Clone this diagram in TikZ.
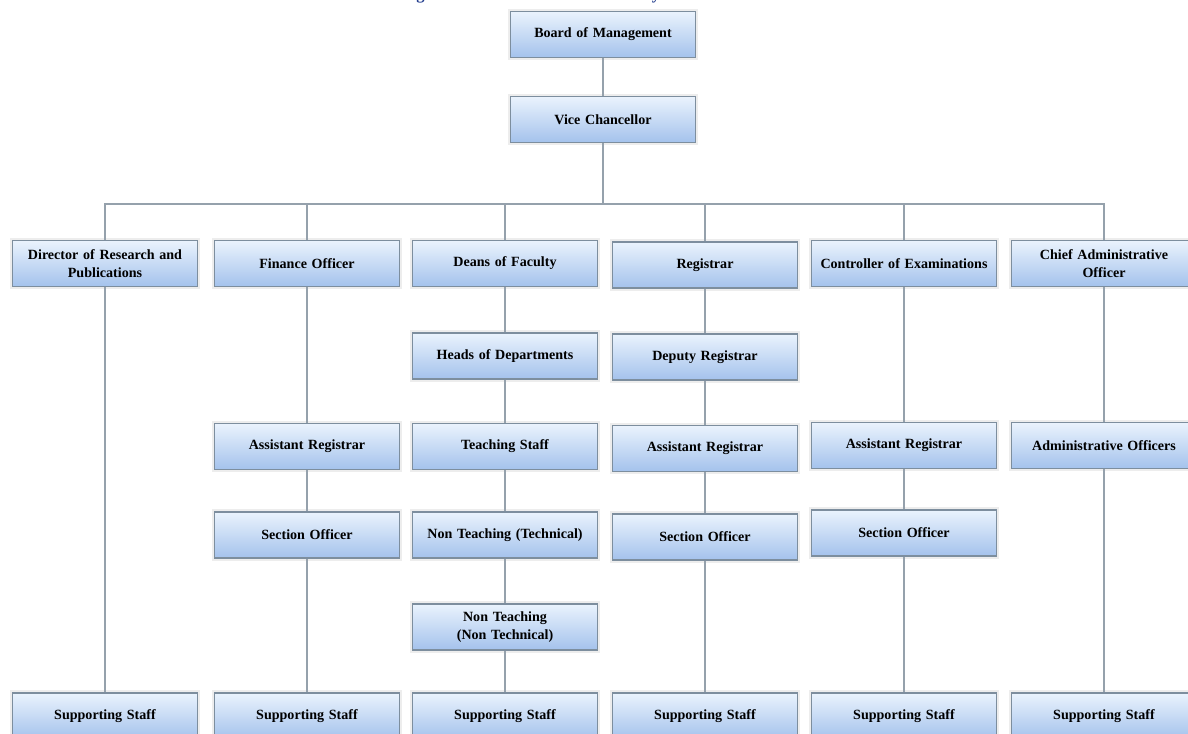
\documentclass[tikz,border=0pt]{standalone}
\usepackage{fontspec}
\setmainfont{Liberation Serif}
\definecolor{boxtop}{HTML}{EAF3FD}
\definecolor{boxbot}{HTML}{A4C2EC}
\definecolor{boxedge}{HTML}{7D8E9E}
\definecolor{linkgray}{HTML}{95A1AC}
\definecolor{titleblue}{HTML}{1F3A8C}
\begin{document}
\begin{tikzpicture}[x=0.025cm, y=-0.025cm,
  every node/.style={font=\bfseries\fontsize{10}{12.8}\selectfont},
  post/.style={rectangle, draw=boxedge, line width=0.8pt,
    top color=boxtop, bottom color=boxbot,
    minimum width=4.62cm, minimum height=1.15cm, text width=4.3cm,
    align=center, inner sep=0pt,
    preaction={draw=black!7, line width=4pt}},
  link/.style={draw=linkgray, line width=0.9pt}]
  \useasboundingbox (0,0) rectangle (1188,733);
  % title, cut by the top edge
  \node[anchor=base west, inner sep=0pt, text=titleblue,
    font=\bfseries\fontsize{11.7}{14}\selectfont] (title) at (375,-0.5)
    {Management Structure of the University};
  % top
  \node[post] (bom) at (603,34.5) {Board of Management};
  \node[post] (vc) at (603,119.5) {Vice Chancellor};
  \coordinate (bus) at (603,204);
  % first row
  \node[post] (dir) at (105,263.5) {Director of Research and\\Publications};
  \node[post] (fin) at (307,263.5) {Finance Officer};
  \node[post] (dean) at (505,263.5) {Deans of Faculty};
  \node[post] (reg) at (705,265) {Registrar};
  \node[post] (coe) at (904,263.5) {Controller of Examinations};
  \node[post] (cao) at (1104,263.5) {Chief Administrative\\Officer};
  % finance
  \node[post] (ar1) at (307,446.5) {Assistant Registrar};
  \node[post] (so1) at (307,535) {Section Officer};
  % deans
  \node[post] (hod) at (505,356) {Heads of Departments};
  \node[post] (ts) at (505,446.5) {Teaching Staff};
  \node[post] (ntt) at (505,535) {Non Teaching (Technical)};
  \node[post] (ntn) at (505,627) {Non Teaching\\(Non Technical)};
  % registrar
  \node[post] (dr) at (705,357) {Deputy Registrar};
  \node[post] (ar2) at (705,448.5) {Assistant Registrar};
  \node[post] (so2) at (705,537) {Section Officer};
  % controller
  \node[post] (ar3) at (904,445.5) {Assistant Registrar};
  \node[post] (so3) at (904,533) {Section Officer};
  % chief administrative officer
  \node[post] (ao) at (1104,445.5) {Administrative Officers};
  % supporting staff
  \foreach \n/\x in {1/105,2/307,3/505,4/705,5/904,6/1104}
    \node[post] (ss\n) at (\x,716) {Supporting Staff};
  % connectors
  \draw[link] (vc) -- (bus);
  \foreach \n in {dir,fin,dean,reg,coe,cao}
    \draw[link] (bus) -| (\n);
  \foreach \a/\b in {bom/vc, dir/ss1, fin/ar1, ar1/so1, so1/ss2,
      dean/hod, hod/ts, ts/ntt, ntt/ntn, ntn/ss3,
      reg/dr, dr/ar2, ar2/so2, so2/ss4,
      coe/ar3, ar3/so3, so3/ss5, cao/ao, ao/ss6}
    \draw[link] (\a) -- (\b);
\end{tikzpicture}
\end{document}
